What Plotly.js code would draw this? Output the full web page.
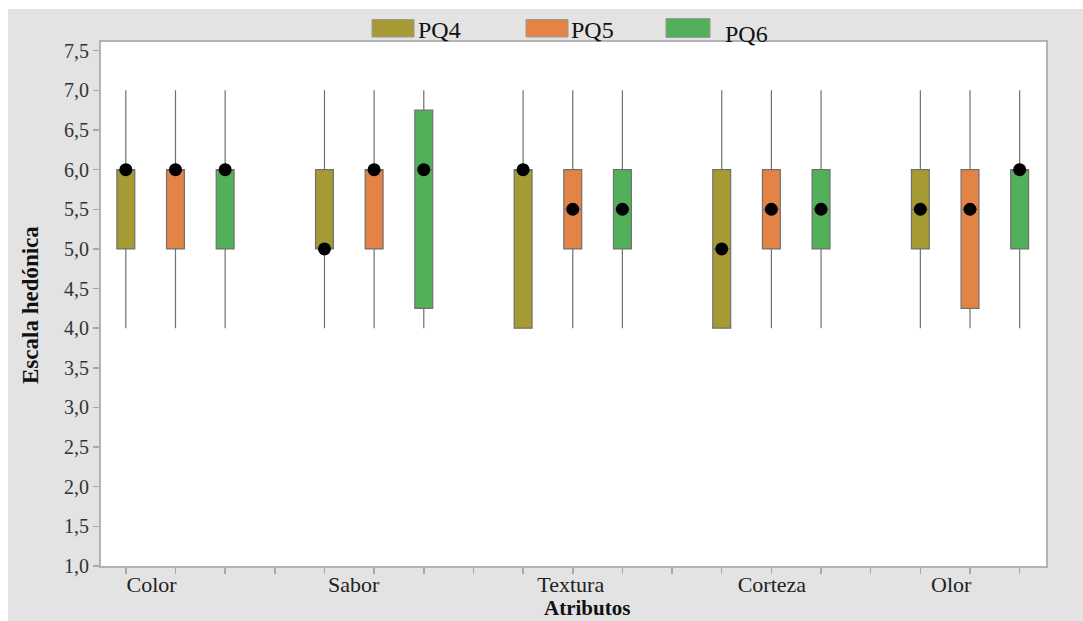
<!DOCTYPE html>
<html><head><meta charset="utf-8">
<script src="https://cdn.plot.ly/plotly-3.0.1.min.js"></script>
<style>
html,body{margin:0;padding:0;background:#ffffff;overflow:hidden;width:1083px;height:621px}
#chart{position:absolute;left:8px;top:9px;width:1075px;height:612px}
</style>
</head><body><div id="chart"></div>
<script>
// ---- data ----
const categories = ['Color', 'Sabor', 'Textura', 'Corteza', 'Olor'];
const seriesNames = ['PQ4', 'PQ5', 'PQ6'];
const seriesColors = ['#a59a33', '#e38446', '#52b05a'];

const pq4Low  = [4, 4, 4, 4, 4];
const pq4Q1   = [5, 5, 4, 4, 5];
const pq4Med  = [6, 5, 6, 5, 5.5];
const pq4Q3   = [6, 6, 6, 6, 6];
const pq4High = [7, 7, 7, 7, 7];

const pq5Low  = [4, 4, 4, 4, 4];
const pq5Q1   = [5, 5, 5, 5, 4.25];
const pq5Med  = [6, 6, 5.5, 5.5, 5.5];
const pq5Q3   = [6, 6, 6, 6, 6];
const pq5High = [7, 7, 7, 7, 7];

const pq6Low  = [4, 4, 4, 4, 4];
const pq6Q1   = [5, 4.25, 5, 5, 5];
const pq6Med  = [6, 6, 5.5, 5.5, 6];
const pq6Q3   = [6, 6.75, 6, 6, 6];
const pq6High = [7, 7, 7, 7, 7];

const yTickStep = 0.5;

// ---- layout geometry ----
const W = 1075, H = 612;
const ML = 93, MR = 37, MT = 33, MB = 55;
const plotW = W - ML - MR, plotH = H - MT - MB;
const OX = 8, OY = 9; // div offset on page
const px = p => (p - OX - ML) / plotW;
const py = p => (H - MB - (p - OY)) / plotH;

const lows = [pq4Low, pq5Low, pq6Low];
const q1s = [pq4Q1, pq5Q1, pq6Q1];
const meds = [pq4Med, pq5Med, pq6Med];
const q3s = [pq4Q3, pq5Q3, pq6Q3];
const highs = [pq4High, pq5High, pq6High];

// each category occupies 3 slots plus a gap slot
const slot = (ci, si) => 1 + 4 * ci + si;
// category label positions on the x axis (as placed in the original)
const labelPos = [1.52, 5.59, 9.96, 14.01, 17.62];

const xRange = [0.5, 19.53];
const serif = 'Liberation Serif, Times New Roman, serif';

const traces = [];
seriesNames.forEach((name, si) => {
  const xs = categories.map((c, ci) => slot(ci, si));
  traces.push({
    type: 'box', name: name, x: xs,
    q1: q1s[si], median: meds[si], q3: q3s[si],
    lowerfence: lows[si], upperfence: highs[si],
    fillcolor: seriesColors[si],
    line: {color: '#707070', width: 1.2},
    whiskerwidth: 0, width: 0.36, boxpoints: false,
    showlegend: false, hoverinfo: 'skip'
  });
});
seriesNames.forEach((name, si) => {
  const xs = categories.map((c, ci) => slot(ci, si));
  traces.push({
    type: 'scatter', mode: 'markers', name: name + ' mediana',
    x: xs, y: meds[si], xaxis: 'x2', yaxis: 'y',
    marker: {color: '#000000', size: 13},
    showlegend: false, hoverinfo: 'skip'
  });
});

const ticks = [];
for (let i = 0; i < categories.length; i++) for (let s = 0; s < 3; s++) ticks.push(slot(i, s));
for (let i = 0; i < categories.length - 1; i++) ticks.push(slot(i, 3));

// custom legend
const swatches = [[372, 414, 19.5, 37], [526, 568, 19.5, 37], [666, 710, 18.5, 37.5]];
const legendText = [[416, 30], [569, 30], [723, 34]];
const shapes = seriesNames.map((n, i) => ({
  type: 'rect', xref: 'paper', yref: 'paper',
  x0: px(swatches[i][0]), x1: px(swatches[i][1]),
  y0: py(swatches[i][3]), y1: py(swatches[i][2]),
  fillcolor: seriesColors[i], line: {color: '#9a9a9a', width: 1}
}));
const annotations = seriesNames.map((n, i) => ({
  xref: 'paper', yref: 'paper', x: px(legendText[i][0]), y: py(legendText[i][1]),
  xanchor: 'left', yanchor: 'middle', showarrow: false, text: n,
  font: {family: serif, size: 24, color: '#111111'}
}));
annotations.push({
  xref: 'paper', yref: 'paper', x: px(30), y: py(305), textangle: -90,
  xanchor: 'center', yanchor: 'middle', showarrow: false,
  text: '<b>Escala hedónica</b>', font: {family: serif, size: 23, color: '#111111'}
});
annotations.push({
  xref: 'paper', yref: 'paper', x: px(587), y: py(621),
  xanchor: 'center', yanchor: 'bottom', showarrow: false, borderpad: 0,
  text: '<b>Atributos</b>', font: {family: serif, size: 21, color: '#111111'}
});

const layout = {
  width: W, height: H,
  margin: {l: ML, r: MR, t: MT, b: MB, pad: 0},
  paper_bgcolor: '#e3e3e3', plot_bgcolor: '#ffffff',
  separators: ',.',
  boxmode: 'overlay',
  showlegend: false,
  xaxis: {
    range: xRange, tickvals: ticks, showticklabels: false,
    ticks: 'outside', ticklen: 6, tickwidth: 1.5, tickcolor: '#a8a8a8',
    showline: true, linecolor: '#b3b3b3', linewidth: 2, mirror: true,
    showgrid: false, zeroline: false, fixedrange: true
  },
  xaxis2: {
    overlaying: 'x', anchor: 'y', side: 'bottom', range: xRange,
    tickvals: labelPos, ticktext: categories, ticks: '',
    showline: false, showgrid: false, zeroline: false, fixedrange: true,
    ticklabelstandoff: 3,
    tickfont: {family: serif, size: 22, color: '#222222'}
  },
  yaxis: {
    range: [1, 7.61], tick0: 1, dtick: yTickStep, tickformat: '.1f',
    ticks: 'outside', ticklen: 6, tickwidth: 1.5, tickcolor: '#a8a8a8',
    showline: true, linecolor: '#b3b3b3', linewidth: 2, mirror: true,
    showgrid: false, zeroline: false, fixedrange: true,
    tickfont: {family: serif, size: 20, color: '#333333'}
  },
  shapes: shapes,
  annotations: annotations
};

Plotly.newPlot('chart', traces, layout, {displayModeBar: false, staticPlot: true});
</script>
</body></html>
